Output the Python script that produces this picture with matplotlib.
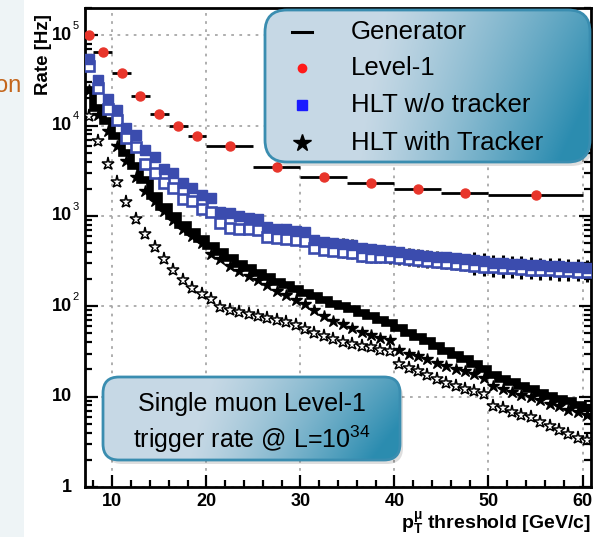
import numpy as np
import matplotlib
matplotlib.use('Agg')
import matplotlib.pyplot as plt
from matplotlib import ticker
from matplotlib.patches import FancyBboxPatch, Rectangle

plt.rcParams['font.family'] = ['Liberation Sans', 'DejaVu Sans']
plt.rcParams['mathtext.fontset'] = 'custom'
plt.rcParams['mathtext.rm'] = 'Liberation Sans'
plt.rcParams['mathtext.it'] = 'Liberation Sans:italic'
plt.rcParams['mathtext.bf'] = 'Liberation Sans:bold'

# ---- data (rates in Hz) ----
pt = np.arange(7.5, 61.0, 1.0)        # 1 GeV threshold bins (centres)
pt_edges = np.arange(7.0, 62.0, 1.0)

generator = [25000, 15800, 11200, 7600, 5000, 3550, 2500, 1660, 1260, 1000,
             800, 660, 550, 460, 400, 340, 295, 263, 234, 209,
             186, 170, 155, 141, 129, 117, 107, 100, 93, 85,
             78, 71, 65, 58, 51, 46, 41, 36, 32, 29,
             26, 23, 20, 17.4, 15.8, 14.5, 13.2, 12.0, 11.0, 10.2,
             9.5, 8.9, 8.1, 7.4]

hlt_notrk = [55000, 31600, 19500, 14800, 9500, 7800, 5400, 4500, 3300, 2950,
             2300, 2040, 1700, 1580, 1100, 1070, 1000, 955, 930, 760,
             725, 710, 675, 660, 540, 513, 500, 490, 480, 437,
             427, 417, 407, 398, 380, 372, 363, 355, 347, 339,
             331, 324, 316, 302, 300, 295, 292, 288, 284, 280,
             277, 274, 270, 268]

hlt_notrk_b = [45700, 26300, 15100, 11500, 7200, 5750, 3800, 3020, 2290, 2040,
               1550, 1450, 1200, 1100, 830, 740, 725, 710, 690, 590,
               575, 560, 540, 525, 437, 417, 407, 398, 389, 363,
               355, 350, 347, 339, 331, 324, 316, 309, 302, 295,
               288, 282, 275, 269, 265, 262, 258, 255, 252, 250,
               247, 245, 242, 240]

hlt_trk = [24500, 13200, 8700, 6000, 4100, 2700, 1900, 1480, 1120, 890,
           720, 600, 500, 380, 330, 280, 245, 219, 195, 170,
           148, 132, 117, 105, 91, 79, 69, 63, 58, 52,
           48, 45, 42, 33, 30, 28, 26, 23.4, 21.9, 20.4,
           19.1, 17.8, 16.2, 13.2, 12.0, 11.2, 10.5, 9.8, 9.1, 8.3,
           7.8, 7.2, 6.8, 6.3]

hlt_trk_b = [12900, 6800, 3800, 2350, 1410, 930, 630, 450, 330, 250,
             195, 158, 138, 120, 98, 91, 87, 83, 79, 75,
             71, 67, 62, 56, 51, 47, 43, 40, 38, 36,
             35, 33, 32, 23, 21, 19, 17.4, 15.5, 14.1, 13.2,
             12.3, 11.5, 10.7, 7.9, 7.4, 6.8, 6.3, 5.9, 5.2, 4.7,
             4.3, 3.9, 3.5, 3.3]

sq_relerr = [0.03] * 14 + [0.08] * 13 + [0.15] * 14 + [0.22] * 13

l1_lo = [7, 8, 10, 12, 14, 16, 18, 20, 25, 30, 35, 40, 45, 50]
l1_hi = [8, 10, 12, 14, 16, 18, 20, 25, 30, 35, 40, 45, 50, 60]
level1 = [100000, 65000, 38000, 21000, 13500, 9800, 7600, 5900, 3450,
          2700, 2300, 2000, 1780, 1700]

ytick_vals = [1, 10, 100, 1000, 10000, 100000]
ytick_base = ['1', '10', '10', '10', '10', '10']
ytick_exp = ['', '', '2', '3', '4', '5']
legend_labels = ['Generator', 'Level-1', 'HLT w/o tracker', 'HLT with Tracker']

blue = '#3b4cae'
red = '#e8352b'

W, H = 603, 537
fig = plt.figure(figsize=(W / 100, H / 100), dpi=100)

# left strip of the slide
fig.patches.append(Rectangle((0, 0), 24 / W, 1, transform=fig.transFigure,
                             fc='#eef4f6', ec='none', zorder=0))
fig.text(21 / W, 1 - 86 / H, 'on', ha='right', va='center', fontsize=17,
         color='#c4661c')

ax = fig.add_axes([85 / W, 1 - 487 / H, (591 - 85) / W, (487 - 8) / H])
ax.set_yscale('log')

l1_c = [(a + b) / 2 for a, b in zip(l1_lo, l1_hi)]
l1_w = [(b - a) / 2 for a, b in zip(l1_lo, l1_hi)]

ax.stairs(generator, pt_edges, baseline=None, color='black', lw=5.5, zorder=2)
ax.plot(pt, hlt_trk_b, ls='none', marker='*', ms=9.5, mfc='white', mec='black',
        mew=1.1, zorder=3)
ax.plot(pt, hlt_trk, ls='none', marker='*', ms=9, color='black', zorder=3)
ax.errorbar(pt, hlt_notrk_b, yerr=np.array(hlt_notrk_b) * np.array(sq_relerr),
            ls='none', marker='s', ms=7, mfc='white', mec=blue, mew=1.9,
            ecolor='black', elinewidth=2.2, capsize=0, zorder=4)
ax.errorbar(pt, hlt_notrk, yerr=np.array(hlt_notrk) * np.array(sq_relerr),
            ls='none', marker='s', ms=7, color=blue, ecolor='black',
            elinewidth=2.2, capsize=0, zorder=4)
ax.errorbar(l1_c, level1, xerr=l1_w, ls='none', marker='o', ms=6.5,
            mfc=red, mec=red, ecolor='black', elinewidth=2, capsize=0, zorder=5)

ax.set_xlim(7.1, 60.9)
ax.set_ylim(1, 2e5)
ax.xaxis.set_major_locator(ticker.MultipleLocator(10))
ax.xaxis.set_minor_locator(ticker.MultipleLocator(2))
ax.yaxis.set_major_locator(ticker.FixedLocator(ytick_vals))
ax.yaxis.set_major_formatter(ticker.NullFormatter())
ax.yaxis.set_minor_locator(ticker.LogLocator(base=10, subs=np.arange(2, 10)))
ax.yaxis.set_minor_formatter(ticker.NullFormatter())
ax.tick_params(which='both', direction='in', left=True, right=True, top=False,
               width=1.6, labelsize=13)
ax.tick_params(which='major', length=9, pad=4)
ax.tick_params(which='minor', length=5)
for lab in ax.get_xticklabels():
    lab.set_fontweight('bold')
for s in ax.spines.values():
    s.set_linewidth(2)
ax.grid(True, which='major', ls=(0, (1.5, 3)), color='#a8a8a8', lw=1.3)

# ROOT style y labels: 10 with a small raised exponent
for v, b, e in zip(ytick_vals, ytick_base, ytick_exp):
    ax.annotate(b, xy=(0, v), xycoords=('axes fraction', 'data'),
                xytext=(-9.5, 0), textcoords='offset points', ha='right',
                va='center', fontsize=13, fontweight='bold',
                annotation_clip=False)
    if e:
        ax.annotate(e, xy=(0, v), xycoords=('axes fraction', 'data'),
                    xytext=(-9, 3), textcoords='offset points', ha='left',
                    va='bottom', fontsize=8, annotation_clip=False)

fig.text(44 / W, 1 - 14 / H, 'Rate [Hz]', rotation=90, ha='center', va='top',
         fontsize=13.5, fontweight='bold')
fig.text(591 / W, 1 - 523 / H, r'$\mathbf{p_{T}^{\mu}}$ threshold [GeV/c]',
         ha='right', va='center', fontsize=14, fontweight='bold')

# overlay in pixel coordinates for the slide boxes
ov = fig.add_axes([0, 0, 1, 1], zorder=10)
ov.set_axis_off()
ov.patch.set_alpha(0)


def grad_box(x0, y0, x1, y1, r):
    style = 'round,pad=0,rounding_size=%d' % r
    ov.add_patch(FancyBboxPatch((x0 + 3, y0 + 4), x1 - x0, y1 - y0, boxstyle=style,
                                fc='black', ec='none', alpha=0.13))
    box = FancyBboxPatch((x0, y0), x1 - x0, y1 - y0, boxstyle=style,
                         fc='none', ec='#3a8db0', lw=2, zorder=3)
    ov.add_patch(box)
    u = np.linspace(0, 1, 300)[None, :]
    v = np.linspace(0, 1, 120)[:, None]
    t = np.clip(1.25 * u - 0.45 + 0.35 * v * u, 0, 1) ** 1.2
    light = np.array([0.78, 0.85, 0.90])
    dark = np.array([0.17, 0.55, 0.69])
    img = light + (dark - light) * t[..., None]
    im = ov.imshow(img, extent=[x0, x1, y1, y0], aspect='auto', zorder=2,
                   interpolation='bilinear')
    im.set_clip_path(box)


grad_box(265, 10, 590, 162, 22)
grad_box(103, 377, 400, 460, 16)

rows = [32, 68, 105, 143]
ov.plot([292, 312], [rows[0], rows[0]], color='black', lw=2.2, zorder=4)
ov.plot([302], [rows[1]], marker='o', ms=6, color='#ff1a1a', zorder=4)
ov.plot([302], [rows[2]], marker='s', ms=6.5, color='#1a1aff', zorder=4)
ov.plot([302], [rows[3]], marker='*', ms=13, color='black', zorder=4)
for yy, lab in zip(rows, legend_labels):
    ov.text(351, yy, lab, ha='left', va='center', fontsize=18.5, zorder=4)

ov.text(252, 404, 'Single muon Level-1', ha='center', va='center',
        fontsize=18, zorder=4)
ov.text(252, 439, r'trigger rate @ L=10$^{34}$', ha='center', va='center',
        fontsize=18, zorder=4)

ov.set_xlim(0, W)
ov.set_ylim(H, 0)

fig.savefig('out.png', dpi=100)
